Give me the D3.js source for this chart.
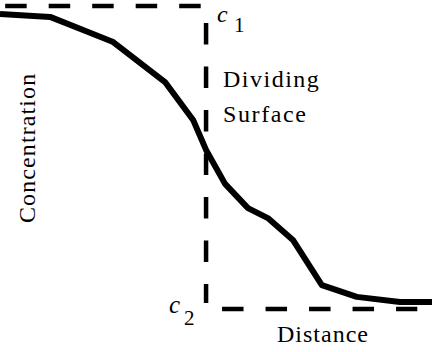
<!DOCTYPE html>
<html>
<head>
<meta charset="utf-8">
<script src="https://cdn.jsdelivr.net/npm/d3@7"></script>
<style>
  body { margin: 0; background: #fff; }
  text { font-family: "Liberation Serif", "Times New Roman", serif; fill: #000; }
</style>
</head>
<body>
<div id="chart"></div>
<script>
// profile (distance 0-100, concentration 0-1)
var distance = [0, 11.6, 20.4, 26.2, 38.2, 44.7, 47.7, 52.1, 57.4, 62.0, 67.8, 74.5, 82.6, 92.6, 100];
var concentration = [0.974, 0.964, 0.914, 0.881, 0.749, 0.624, 0.525, 0.413, 0.333, 0.300, 0.228, 0.079, 0.040, 0.023, 0.023];

var c1 = 1, c2 = 0;
var dividing = 47.7;

var chart_width = 432;
var chart_height = 352;

var svg = d3.select('#chart')
    .append('svg')
    .attr('width', chart_width)
    .attr('height', chart_height);

var xScale = d3.scaleLinear().domain([0, 100]).range([0, 432]);
var yScale = d3.scaleLinear().domain([0, 1]).range([309, 6]);

// dashed guide lines
var guides = [
    { x1: 1.2, x2: 46.5, y1: c1, y2: c1 },
    { x1: dividing, x2: dividing, y1: 0.944, y2: 0.02 },
    { x1: 51.4, x2: 96.6, y1: c2, y2: c2 }
];

svg.selectAll('line.guide')
    .data(guides)
    .enter()
    .append('line')
    .attr('class', 'guide')
    .attr('x1', function(d) { return xScale(d.x1); })
    .attr('x2', function(d) { return xScale(d.x2); })
    .attr('y1', function(d) { return yScale(d.y1); })
    .attr('y2', function(d) { return yScale(d.y2); })
    .attr('stroke', '#000')
    .attr('stroke-width', 4.5)
    .attr('stroke-dasharray', '21.5 22');

// profile curve
var line = d3.line()
    .x(function(d, i) { return xScale(distance[i]); })
    .y(function(d) { return yScale(d); });

svg.append('path')
    .datum(concentration)
    .attr('d', line)
    .attr('fill', 'none')
    .attr('stroke', '#000')
    .attr('stroke-width', 6)
    .attr('stroke-linejoin', 'round');

// labels
svg.append('text').attr('x', 217).attr('y', 22)
    .style('font-style', 'italic').style('font-size', '24px').text('c');
svg.append('text').attr('x', 234).attr('y', 32)
    .style('font-size', '21px').text('1');

svg.append('text').attr('x', 169).attr('y', 313)
    .style('font-style', 'italic').style('font-size', '25px').text('c');
svg.append('text').attr('x', 184).attr('y', 325)
    .style('font-size', '21px').text('2');

svg.append('text').attr('x', 223).attr('y', 87)
    .style('font-size', '24px').style('letter-spacing', '1.5px').text('Dividing');
svg.append('text').attr('x', 223).attr('y', 122)
    .style('font-size', '24px').style('letter-spacing', '1.6px').text('Surface');

svg.append('text').attr('x', 277).attr('y', 342)
    .style('font-size', '24px').style('letter-spacing', '1px').text('Distance');

svg.append('text')
    .attr('transform', 'translate(35,223) rotate(-90)')
    .style('font-size', '24px').style('letter-spacing', '1.1px').text('Concentration');
</script>
</body>
</html>
